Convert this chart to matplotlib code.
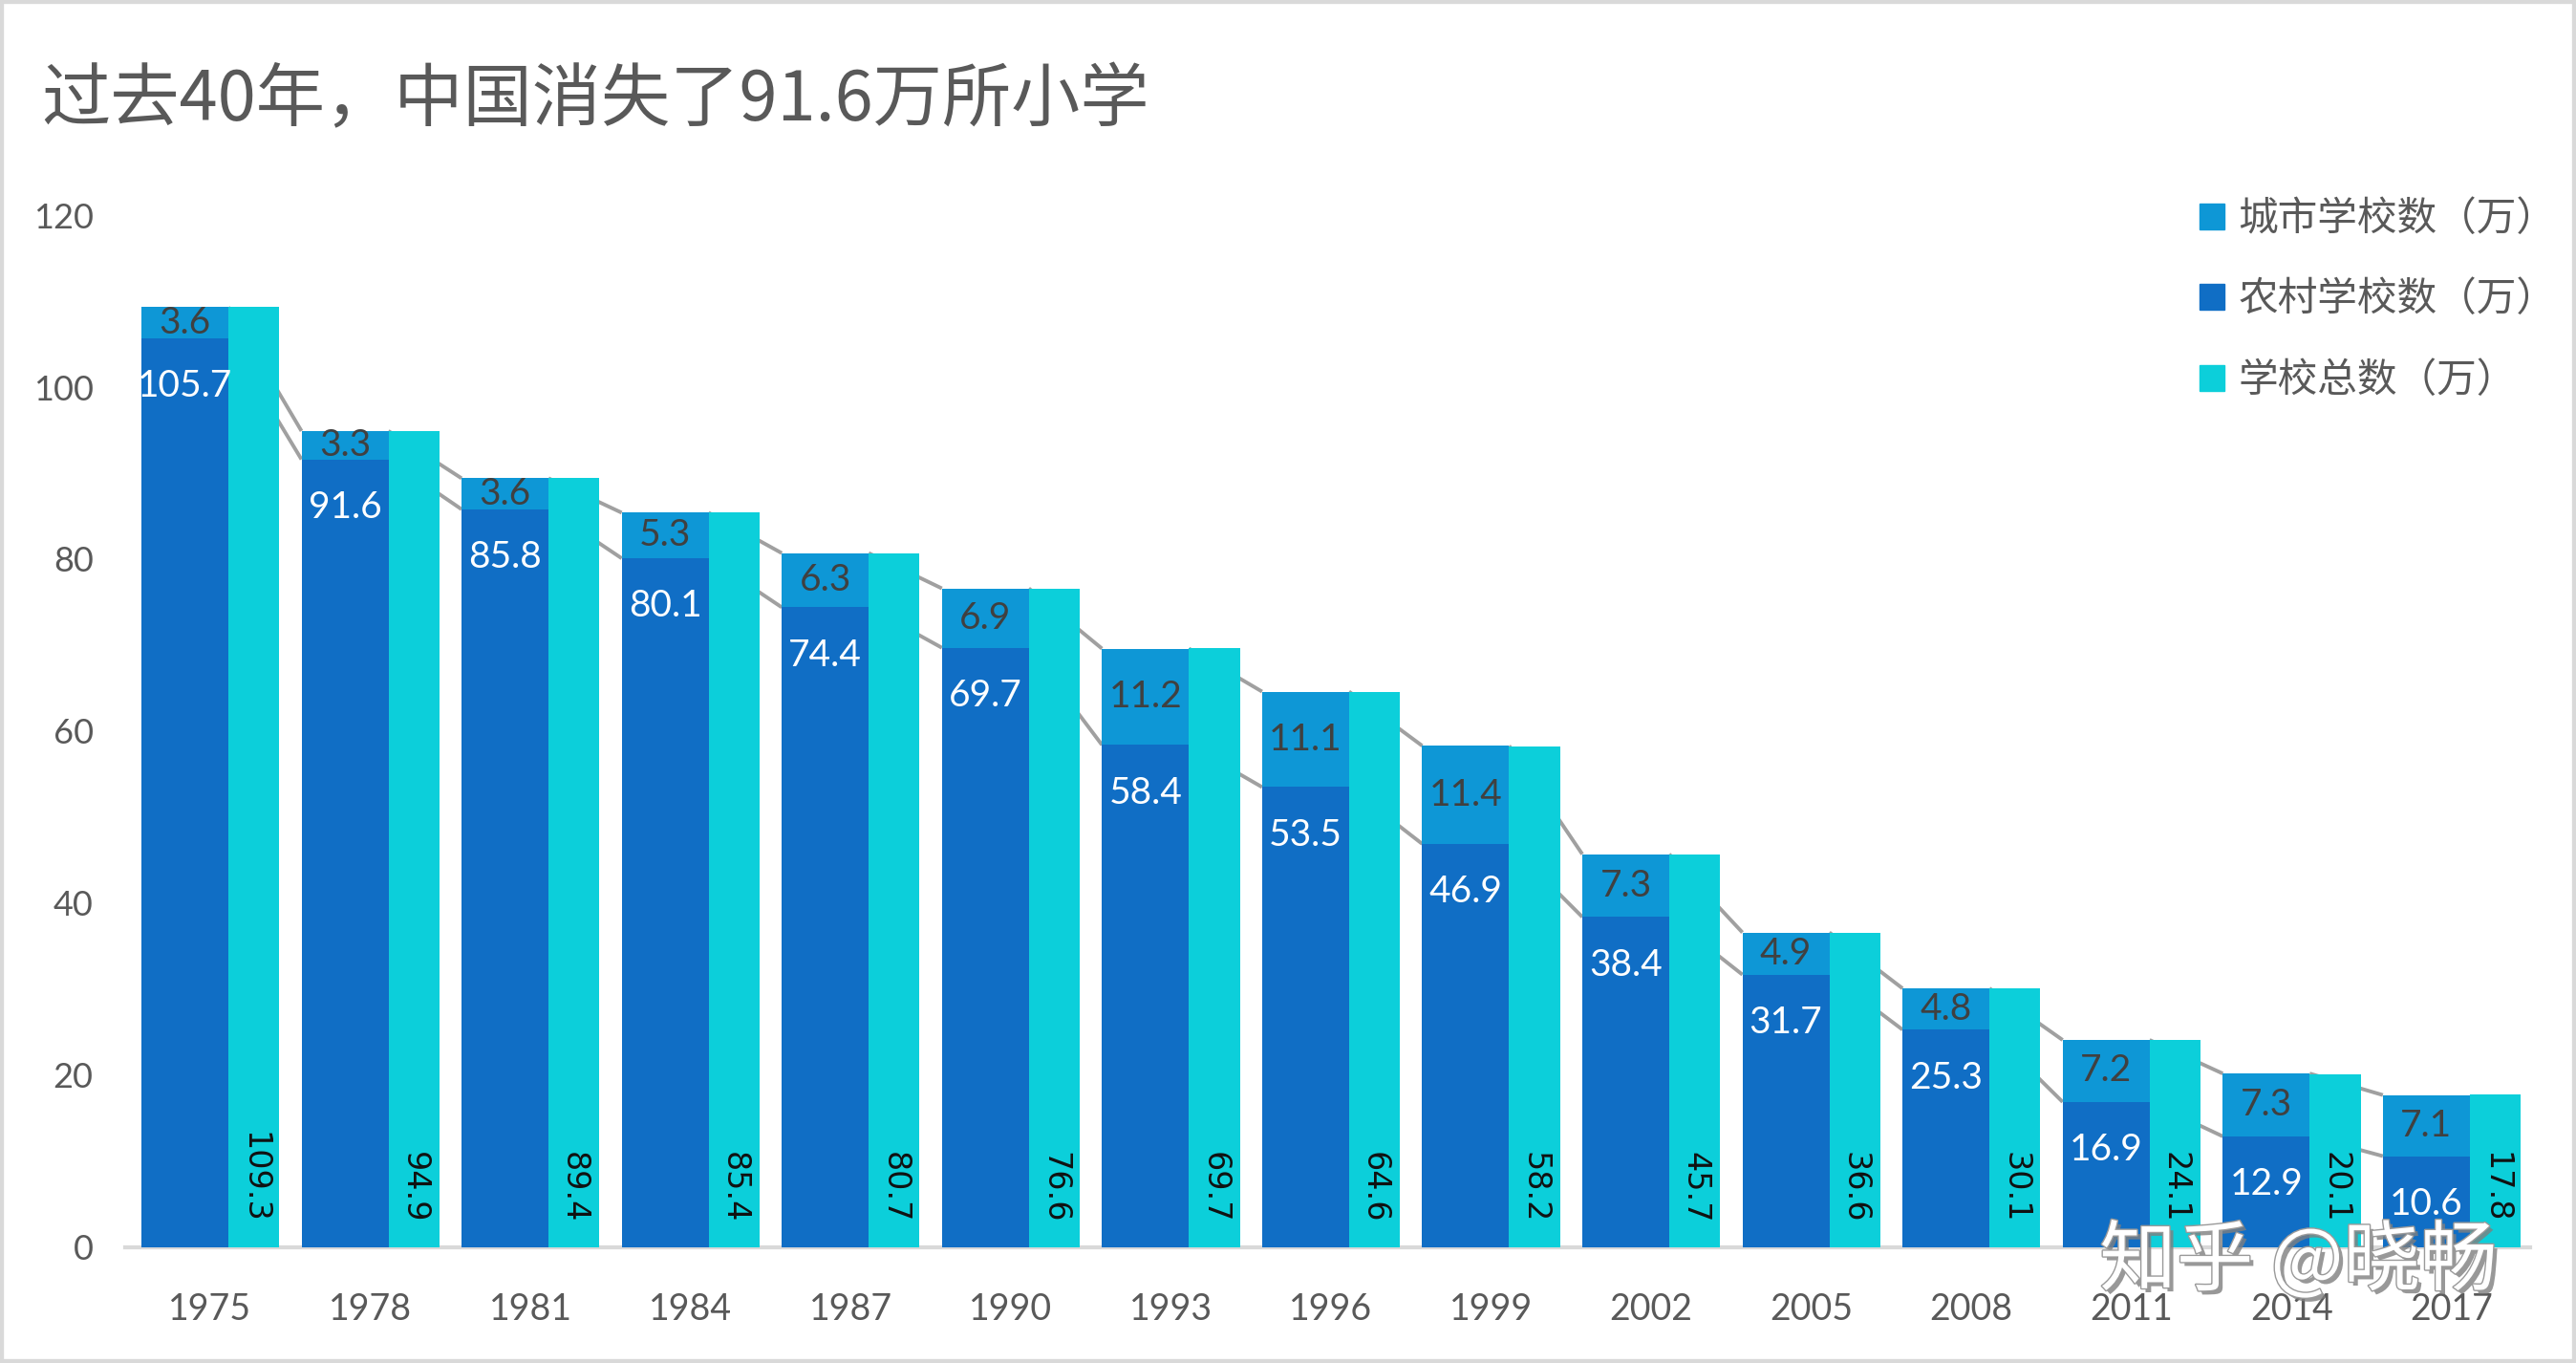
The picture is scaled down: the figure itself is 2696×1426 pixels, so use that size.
import numpy as np
import matplotlib
matplotlib.use("Agg")
import matplotlib.pyplot as plt
import matplotlib.patheffects as pe
from matplotlib.patches import Rectangle, Patch

years = ["1975", "1978", "1981", "1984", "1987", "1990", "1993", "1996",
         "1999", "2002", "2005", "2008", "2011", "2014", "2017"]
urban = [3.6, 3.3, 3.6, 5.3, 6.3, 6.9, 11.2, 11.1, 11.4, 7.3, 4.9, 4.8, 7.2, 7.3, 7.1]
rural = [105.7, 91.6, 85.8, 80.1, 74.4, 69.7, 58.4, 53.5, 46.9, 38.4, 31.7, 25.3, 16.9, 12.9, 10.6]
total = [109.3, 94.9, 89.4, 85.4, 80.7, 76.6, 69.7, 64.6, 58.2, 45.7, 36.6, 30.1, 24.1, 20.1, 17.8]

c_urban = "#0E97D6"
c_rural = "#106EC5"
c_total = "#0CCFDA"
grey_txt = "#595959"

cjk = ["Noto Sans CJK SC", "DejaVu Sans"]
num = ["Lato", "DejaVu Sans"]

fig = plt.figure(figsize=(26.96, 14.26), dpi=100)
fig.patch.set_facecolor("white")
ax = fig.add_axes([0.0486, 0.0849, 0.9336, 0.7573])

x = np.arange(len(years))
w_s, w_t = 0.543, 0.318
xs = x - 0.43 + w_s / 2
xt = x - 0.43 + w_s + w_t / 2

# series lines between the stacked columns
top = np.array(rural) + np.array(urban)
for i in range(len(years) - 1):
    for v in (rural, top):
        ax.plot([xs[i] + w_s / 2, xs[i + 1] - w_s / 2], [v[i], v[i + 1]],
                color="#A0A0A0", lw=2.8, zorder=1, solid_capstyle="butt")

ax.bar(xs, rural, w_s, color=c_rural, zorder=2, label="农村学校数（万）")
ax.bar(xs, urban, w_s, bottom=rural, color=c_urban, zorder=2, label="城市学校数（万）")
ax.bar(xt, total, w_t, color=c_total, zorder=2, label="学校总数（万）")

for i in range(len(years)):
    ax.text(xs[i], rural[i] + urban[i] / 2, f"{urban[i]:.1f}", ha="center", va="center",
            fontsize=28, color="#404040", family=num, zorder=3)
    ax.text(xs[i], rural[i] - 5.6, f"{rural[i]:.1f}", ha="center", va="center",
            fontsize=28, color="white", family=num, zorder=3)
    ax.text(xt[i], 2.8, f"{total[i]:.1f}", ha="center", va="bottom", rotation=270,
            fontsize=24, color="#111111", family=["DejaVu Sans"], zorder=3)

ax.set_xlim(-0.531, 14.49)
ax.set_ylim(0, 120)
ax.set_yticks(range(0, 121, 20))
ax.set_xticks(x)
ax.set_xticklabels(years)
ax.tick_params(axis="both", length=0, labelcolor=grey_txt)
ax.tick_params(axis="y", pad=24, labelsize=26)
ax.tick_params(axis="x", pad=34, labelsize=27)
for lab in ax.get_xticklabels() + ax.get_yticklabels():
    lab.set_family(num)
for s in ["left", "right", "top"]:
    ax.spines[s].set_visible(False)
ax.spines["bottom"].set_color("#D9D9D9")
ax.spines["bottom"].set_linewidth(3)
ax.spines["bottom"].set_zorder(1.5)

fig.text(0.016, 0.926, "过去40年，中国消失了91.6万所小学", fontsize=52, color=grey_txt,
         family=cjk, weight="medium", va="center", ha="left")

handles = [Patch(color=c_urban), Patch(color=c_rural), Patch(color=c_total)]
labels = ["城市学校数（万）", "农村学校数（万）", "学校总数（万）"]
leg = fig.legend(handles, labels, loc="upper left", bbox_to_anchor=(0.8462, 0.868),
                 frameon=False, borderpad=0, handlelength=0.62, handleheight=0.62,
                 handletextpad=0.35, labelspacing=1.04, prop={"family": cjk, "size": 30})
for t in leg.get_texts():
    t.set_color(grey_txt)

# watermark
fig.text(0.815, 0.074, "知乎 @晓畅", fontsize=58, color="white", family=cjk,
         va="center", ha="left",
         path_effects=[pe.withSimplePatchShadow(offset=(3, -3), shadow_rgbFace="#7f7f7f", alpha=0.8),
                       pe.withStroke(linewidth=2, foreground="#9a9a9a")])

# outer border
fig.patches.append(Rectangle((0, 0), 1, 1, transform=fig.transFigure, fill=False,
                             edgecolor="#D9D9D9", lw=6))

fig.savefig("out.png", dpi=100)
